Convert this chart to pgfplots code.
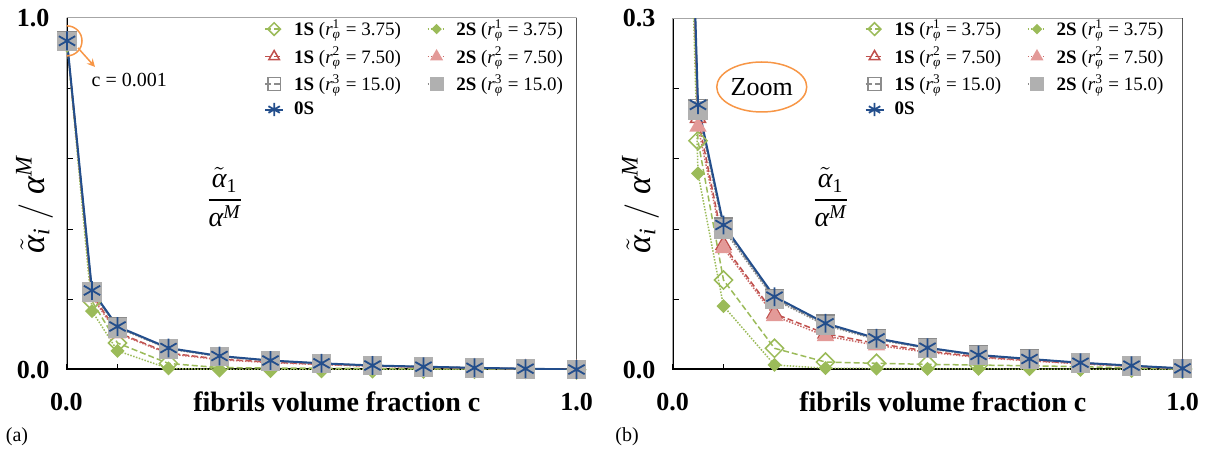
\documentclass[border=0pt]{standalone}
\usepackage{amsmath}
\usepackage{fontspec}
\setmainfont{Liberation Serif}
\usepackage{pgfplots}
\pgfplotsset{compat=1.18}
\usepackage{pgfplotstable}

\definecolor{cgreen}{HTML}{9BBB59}
\definecolor{cred}{HTML}{C0504D}
\definecolor{cpink}{HTML}{E39A98}
\definecolor{cgray}{HTML}{8C8C8C}
\definecolor{cgrayfill}{HTML}{B0B0B0}
\definecolor{cblue}{HTML}{234E8C}
\definecolor{corange}{HTML}{F79646}

\pgfplotstableread{
x s0 a3 b3 a2 b2 a1 b1
0.001 0.935 0.934 0.933 0.932 0.931 0.930 0.929
0.05 0.226 0.223 0.221 0.2148 0.2074 0.1954 0.1676
0.1 0.1236 0.122 0.120 0.1065 0.104 0.0767 0.0545
0.2 0.0625 0.061 0.060 0.048 0.046 0.0185 0.0043
0.3 0.0398 0.039 0.038 0.031 0.029 0.0068 0.0015
0.4 0.027 0.0265 0.026 0.0225 0.021 0.0057 0.0012
0.5 0.019 0.0186 0.0183 0.0162 0.0152 0.0048 0.0010
0.6 0.0128 0.0126 0.0124 0.0112 0.0106 0.0042 0.0009
0.7 0.0094 0.0092 0.0091 0.0082 0.0078 0.0036 0.0008
0.8 0.0062 0.0061 0.0060 0.0055 0.0052 0.0028 0.0006
0.9 0.0037 0.0036 0.0035 0.0033 0.0031 0.0018 0.0004
1.0 0.0014 0.0014 0.0013 0.0012 0.0011 0.0008 0.0002
}\data

\newcommand{\ri}[2]{\(\text{\itshape r}^{\text{#1}}_{\text{\itshape φ}}\) = #2}

\pgfplotsset{
  sA1/.style={cgreen, line width=0.75pt, dash pattern=on 3pt off 1.5pt, mark=square, mark size=3.2pt, mark options={solid, rotate=45, line width=0.75pt}},
  sB1/.style={cgreen, line width=0.75pt, dash pattern=on 0.75pt off 0.75pt, mark=square*, mark size=2.1pt, mark options={solid, rotate=45, fill=cgreen}},
  sA2/.style={cred, line width=0.75pt, dash pattern=on 3pt off 1.5pt, mark=triangle, mark size=4.3pt, mark options={solid, line width=0.75pt}},
  sB2/.style={cred!85, line width=0.75pt, dash pattern=on 0.75pt off 0.75pt, mark=triangle*, mark size=4.3pt, mark options={solid, draw=cpink, fill=cpink}},
  sA3/.style={cgray, line width=0.75pt, dash pattern=on 3pt off 1.5pt, mark=square, mark size=4.5pt, mark options={solid, line width=0.75pt}},
  sB3/.style={cgray, line width=0.75pt, dash pattern=on 0.75pt off 0.75pt, mark=square*, mark size=4.5pt, mark options={solid, draw=cgrayfill, fill=cgrayfill}},
  sZ/.style={cblue, line width=1pt, solid, mark=asterisk, mark size=4.7pt, mark options={line width=0.9pt}},
  common/.style={
    scale only axis, width=255pt, height=176pt, anchor=south west,
    xmin=0, xmax=1, ymin=0,
    xtick={0,0.1,0.2,0.3,0.4,0.5,0.6,0.7,0.8,0.9,1},
    xticklabels={\textbf{0.0},,,,,,,,,,\textbf{1.0}},
    tick align=inside, tick pos=left, major tick length=3pt,
    tick style={black, line width=0.5pt},
    axis line style={draw=none},
    xticklabel style={font=\fontsize{13}{15}\selectfont, yshift=-8pt},
    yticklabel style={font=\fontsize{13}{15}\selectfont, xshift=-5pt},
    xlabel={\textbf{fibrils volume fraction c}},
    xlabel style={at={([yshift=-16pt]axis description cs:0.53,0)}, anchor=center, font=\fontsize{14}{16}\selectfont},
    ylabel={\(\tilde{\text{\itshape α}}_{\text{\itshape i}}\ /\ \text{\itshape α}^{\text{\itshape M}}\)},
    ylabel style={at={([xshift=-16pt]axis description cs:0,0.47)}, anchor=center, font=\fontsize{17}{20}\selectfont},
    legend columns=2, legend cell align=left,
    legend style={draw=none, fill=none, at={(0.375,1.02)}, anchor=north west,
      font=\fontsize{9.5}{11}\selectfont, row sep=0pt, column sep=0pt,
      /tikz/every odd column/.append style={column sep=3pt},
      /tikz/every even column/.append style={column sep=11pt}},
    legend image code/.code={\draw[##1,mark indices={2},every mark/.append style={scale=0.7}] plot coordinates {(0pt,0pt) (4.5pt,0pt) (9pt,0pt)};},
  }
}

\begin{document}
\begin{tikzpicture}
\useasboundingbox (0,0) rectangle (605.5pt,225pt);
\begin{axis}[common, at={(33.25pt,40pt)}, ymax=1,
  ytick={0,0.2,0.4,0.6,0.8,1}, yticklabels={\textbf{0.0},,,,,\textbf{1.0}}]
  \draw[line width=1.5pt] (rel axis cs:0,1) -- (rel axis cs:0,0) -- (rel axis cs:1,0);
  \draw[gray!70, line width=0.5pt] (rel axis cs:0,1) -- (rel axis cs:1,1);
  \draw[line width=1pt] (rel axis cs:1,0) -- (rel axis cs:1,1);
  \addplot[sA1] table[x=x,y=a1]{\data}; \addlegendentry{\textbf{1S} (\ri{1}{3.75})}
  \addplot[sB1] table[x=x,y=b1]{\data}; \addlegendentry{\textbf{2S} (\ri{1}{3.75})}
  \addplot[sA2] table[x=x,y=a2]{\data}; \addlegendentry{\textbf{1S} (\ri{2}{7.50})}
  \addplot[sB2] table[x=x,y=b2]{\data}; \addlegendentry{\textbf{2S} (\ri{2}{7.50})}
  \addplot[sA3] table[x=x,y=a3]{\data}; \addlegendentry{\textbf{1S} (\ri{3}{15.0})}
  \addplot[sB3] table[x=x,y=b3]{\data}; \addlegendentry{\textbf{2S} (\ri{3}{15.0})}
  \addplot[sZ] table[x=x,y=s0]{\data}; \addlegendentry{\textbf{0S}}
  \node[font=\fontsize{14}{16}\selectfont] at (axis description cs:0.31,0.49) {\(\dfrac{\tilde{\text{\itshape α}}_{\text{1}}}{\text{\itshape α}^{\text{\itshape M}}}\)};
  \draw[corange, line width=0.75pt] (axis cs:0.001,0.935) circle[radius=7.5pt];
  \draw[corange, line width=0.75pt, -stealth] (axis cs:0.0225,0.915) -- (axis cs:0.0558,0.861);
  \node[font=\fontsize{10}{12}\selectfont] at (axis cs:0.123,0.824) {c = 0.001};
\end{axis}
\begin{axis}[common, at={(336.25pt,40pt)}, ymax=0.3,
  ytick={0,0.06,0.12,0.18,0.24,0.3}, yticklabels={\textbf{0.0},,,,,\textbf{0.3}},
  every axis plot/.append style={mark indices={1,2,3,4,5,6,7,8,9,10,11}},
  legend style={at={(0.364,1.02)}}]
  \draw[line width=1.5pt] (rel axis cs:0,1) -- (rel axis cs:0,0) -- (rel axis cs:1,0);
  \draw[gray!70, line width=0.5pt] (rel axis cs:0,1) -- (rel axis cs:1,1);
  \draw[line width=1pt] (rel axis cs:1,0) -- (rel axis cs:1,1);
  \addplot[sA1] table[x=x,y=a1]{\data}; \addlegendentry{\textbf{1S} (\ri{1}{3.75})}
  \addplot[sB1] table[x=x,y=b1]{\data}; \addlegendentry{\textbf{2S} (\ri{1}{3.75})}
  \addplot[sA2] table[x=x,y=a2]{\data}; \addlegendentry{\textbf{1S} (\ri{2}{7.50})}
  \addplot[sB2] table[x=x,y=b2]{\data}; \addlegendentry{\textbf{2S} (\ri{2}{7.50})}
  \addplot[sA3] table[x=x,y=a3]{\data}; \addlegendentry{\textbf{1S} (\ri{3}{15.0})}
  \addplot[sB3] table[x=x,y=b3]{\data}; \addlegendentry{\textbf{2S} (\ri{3}{15.0})}
  \addplot[sZ] table[x=x,y=s0]{\data}; \addlegendentry{\textbf{0S}}
  \node[font=\fontsize{14}{16}\selectfont] at (axis description cs:0.31,0.49) {\(\dfrac{\tilde{\text{\itshape α}}_{\text{1}}}{\text{\itshape α}^{\text{\itshape M}}}\)};
  \draw[corange, line width=0.75pt] (axis description cs:0.175,0.804) ellipse[x radius=22.5pt, y radius=12.5pt];
  \node[font=\fontsize{13}{15}\selectfont] at (axis description cs:0.175,0.804) {Zoom};
\end{axis}
\node[font=\fontsize{10}{12}\selectfont] at (8.5pt,6.5pt) {(a)};
\node[font=\fontsize{10}{12}\selectfont] at (313.5pt,6.5pt) {(b)};
\end{tikzpicture}
\end{document}
